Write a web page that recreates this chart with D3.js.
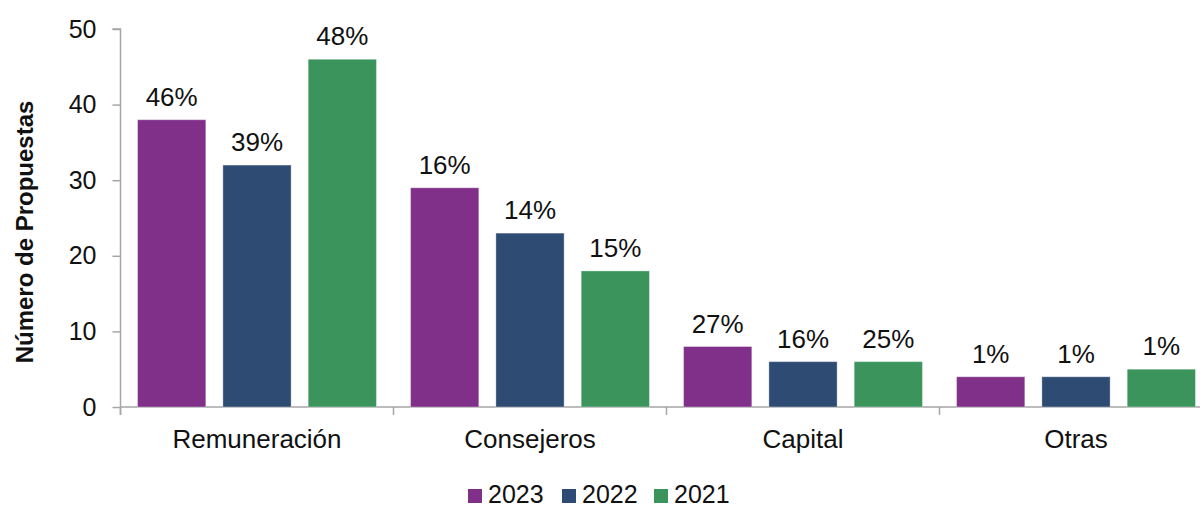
<!DOCTYPE html>
<html>
<head>
<meta charset="utf-8">
<script src="https://cdn.jsdelivr.net/npm/d3@7"></script>
<style>
  html, body { margin: 0; padding: 0; background: #fff; }
  svg { display: block; }
  text { font-family: "Liberation Sans", Arial, sans-serif; fill: #111; }
</style>
</head>
<body>
<svg id="chart" width="1200" height="509"></svg>
<script>
const categories = ["Remuneración", "Consejeros", "Capital", "Otras"];
const seriesNames = ["2023", "2022", "2021"];
const values2023 = [38, 29, 8, 4];
const values2022 = [32, 23, 6, 4];
const values2021 = [46, 18, 6, 5];
const labels2023 = ["46%", "16%", "27%", "1%"];
const labels2022 = ["39%", "14%", "16%", "1%"];
const labels2021 = ["48%", "15%", "25%", "1%"];
const yTicks = [0, 10, 20, 30, 40, 50];
const colors = ["#803089", "#2E4B74", "#3A945C"];

const seriesValues = [values2023, values2022, values2021];
const seriesLabels = [labels2023, labels2022, labels2021];

const svg = d3.select("#chart");
const axisColor = "#a6a6a6";

const x0 = d3.scaleBand().domain(categories).range([120.5, 120.5 + 4 * 273]).padding(0);
const x1 = d3.scaleBand().domain(seriesNames).range([0, x0.bandwidth()]).paddingInner(0.2).paddingOuter(0.2);
const y = d3.scaleLinear().domain([0, 50]).range([407, 29]);

// y axis
const yAxis = d3.axisLeft(y).tickValues(yTicks).tickSize(8).tickPadding(16);
const gy = svg.append("g").attr("transform", "translate(120.5,0)").call(yAxis);
gy.select(".domain").attr("stroke", axisColor).attr("stroke-width", 1.5).attr("d", "M-8,29H0V415");
gy.selectAll(".tick line").attr("stroke", axisColor).attr("stroke-width", 1.5);
gy.selectAll(".tick text").attr("font-size", 25).attr("fill", "#111").style("font-family", "Liberation Sans, Arial, sans-serif");

// x axis line and boundary ticks
const boundaries = categories.map(c => x0(c)).concat([x0.range()[1]]);
svg.append("line").attr("x1", 120.5).attr("x2", 1200).attr("y1", y(0)).attr("y2", y(0))
  .attr("stroke", axisColor).attr("stroke-width", 1.5);
svg.selectAll(".xtick").data(boundaries).enter().append("line")
  .attr("x1", d => d).attr("x2", d => d).attr("y1", y(0)).attr("y2", y(0) + 8)
  .attr("stroke", axisColor).attr("stroke-width", 1.5);

// category labels
svg.selectAll(".catlabel").data(categories).enter().append("text")
  .attr("x", d => x0(d) + x0.bandwidth() / 2)
  .attr("y", 448)
  .attr("text-anchor", "middle")
  .attr("font-size", 26)
  .text(d => d);

// bars
categories.forEach((cat, ci) => {
  seriesNames.forEach((s, si) => {
    const v = seriesValues[si][ci];
    const bx = x0(cat) + x1(s);
    svg.append("rect")
      .attr("x", bx).attr("y", y(v))
      .attr("width", x1.bandwidth()).attr("height", y(0) - y(v))
      .attr("fill", colors[si])
      .attr("stroke", "rgba(255,255,255,0.35)").attr("stroke-width", 1);
    svg.append("text")
      .attr("x", bx + x1.bandwidth() / 2)
      .attr("y", y(v) - 14)
      .attr("text-anchor", "middle")
      .attr("font-size", 26)
      .text(seriesLabels[si][ci]);
  });
});

// y title
svg.append("text")
  .attr("transform", "translate(33,232) rotate(-90)")
  .attr("text-anchor", "middle")
  .attr("font-size", 24)
  .attr("font-weight", "bold")
  .text("Número de Propuestas");

// legend
const legendX = [468, 562, 654];
seriesNames.forEach((s, i) => {
  svg.append("rect").attr("x", legendX[i]).attr("y", 489).attr("width", 14).attr("height", 14).attr("fill", colors[i]);
  svg.append("text").attr("x", legendX[i] + 20).attr("y", 503).attr("font-size", 25).text(s);
});
</script>
</body>
</html>
